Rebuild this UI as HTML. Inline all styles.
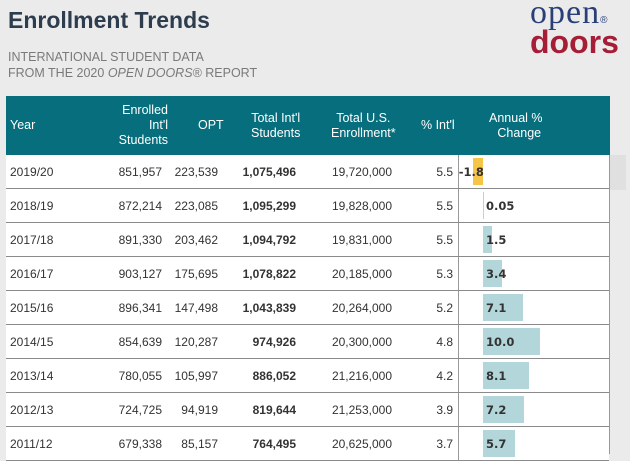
<!DOCTYPE html>
<html><head><meta charset="utf-8">
<style>
body{margin:0;width:630px;height:461px;background:#ebebeb;font-family:"Liberation Sans",Arial,sans-serif;overflow:hidden;position:relative}
.abs{position:absolute}
#title{left:8px;top:7px;font-size:23px;font-weight:bold;color:#2e3d4e}
.sub{left:8px;font-size:12.5px;color:#7a7a7a}
#logo1{left:530px;top:-6px;font-family:"Liberation Serif",serif;font-size:34px;color:#2a3f78;letter-spacing:1px}
#logo2{left:530px;top:24px;font-size:32px;font-weight:bold;color:#a51e36}
#hdr{left:6px;top:96px;width:604px;height:59px;background:#066e7c;color:#fff;font-size:12.5px}
#hdr div{position:absolute;line-height:15px}
.row{position:absolute;left:6px;width:603px;height:33px;background:#fff;border-bottom:1px solid #8a8a8a;font-size:12px;color:#333}
.row div{position:absolute;top:10px}
.r{text-align:right}
.bar{position:absolute;height:27px;top:3px!important}
.lbl{font-weight:bold;font-family:"DejaVu Sans",sans-serif;font-size:11.5px;color:#333;top:10px}
</style></head><body>
<div class="abs" id="title">Enrollment Trends</div>
<div class="abs sub" style="top:50px">INTERNATIONAL STUDENT DATA</div>
<div class="abs sub" style="top:66px">FROM THE 2020 <i>OPEN DOORS®</i> REPORT</div>
<div class="abs" id="logo1">open<span style="font-size:10px;font-family:'Liberation Sans'">®</span></div>
<div class="abs" id="logo2">doors</div>
<div class="abs" id="hdr">
<div style="left:4px;top:22px">Year</div>
<div class="r" style="right:442px;top:7px" >Enrolled<br>Int'l<br>Students</div>
<div style="left:192px;top:22px">OPT</div>
<div style="left:245px;top:15px;text-align:center">Total Int'l<br>Students</div>
<div style="left:325px;top:15px;text-align:center">Total U.S.<br>Enrollment*</div>
<div style="left:415px;top:22px">% Int'l</div>
<div style="left:483px;top:15px;text-align:center">Annual %<br>&nbsp;&nbsp;Change</div>
</div>
<div class="abs" style="left:610px;top:155px;width:16px;height:35px;background:#e0e0e0"></div>
<div class="abs" style="left:609px;top:155px;width:1px;height:299px;background:#999"></div>
<div id="rows"></div>
<script>
const years=["2019/20","2018/19","2017/18","2016/17","2015/16","2014/15","2013/14","2012/13","2011/12"];
const enrolled=["851,957","872,214","891,330","903,127","896,341","854,639","780,055","724,725","679,338"];
const opt=["223,539","223,085","203,462","175,695","147,498","120,287","105,997","94,919","85,157"];
const totalIntl=["1,075,496","1,095,299","1,094,792","1,078,822","1,043,839","974,926","886,052","819,644","764,495"];
const totalUS=["19,720,000","19,828,000","19,831,000","20,185,000","20,264,000","20,300,000","21,216,000","21,253,000","20,625,000"];
const pctIntl=["5.5","5.5","5.5","5.3","5.2","4.8","4.2","3.9","3.7"];
const change=[-1.8,0.05,1.5,3.4,7.1,10.0,8.1,7.2,5.7];
const changeLabels=["-1.8","0.05","1.5","3.4","7.1","10.0","8.1","7.2","5.7"];
const zeroX=477, scale=5.7, rowTop=155, rowH=34;
const c=document.getElementById('rows');
years.forEach((y,i)=>{
 const r=document.createElement('div');r.className='row';r.style.top=(rowTop+i*rowH)+'px';
 
 
 const w=Math.max(Math.abs(change[i])*scale,1);
 const x=change[i]<0?zeroX-w:zeroX;
 const lblX=change[i]<0?zeroX-w-14:zeroX+3;
 r.innerHTML=`<div style="left:4px">${y}</div>
<div class="r" style="right:447px">${enrolled[i]}</div>
<div class="r" style="right:391px">${opt[i]}</div>
<div class="r" style="right:313px;font-weight:bold">${totalIntl[i]}</div>
<div class="r" style="right:217px">${totalUS[i]}</div>
<div class="r" style="right:156px">${pctIntl[i]}</div>
<div style="left:452px;top:0;width:1px;height:33px;background:#999"></div>
<div class="bar" style="left:${x}px;width:${w}px;background:${change[i]<0?'#f6c548':'#b3d6db'}"></div>
<div class="lbl" style="left:${lblX}px">${changeLabels[i]}</div>`;
 c.appendChild(r);
});
</script>
</body></html>
